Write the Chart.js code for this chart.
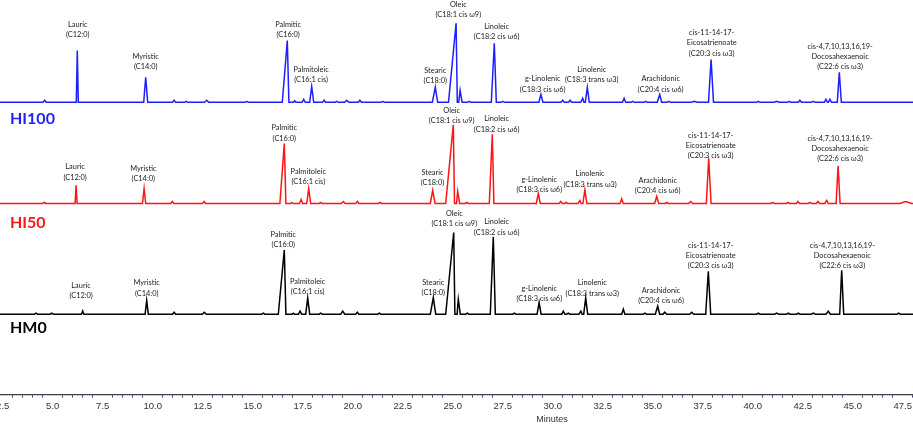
<!DOCTYPE html>
<html>
<head>
<meta charset="utf-8">
<script src="https://cdn.jsdelivr.net/npm/chart.js@4.4.1/dist/chart.umd.min.js"></script>
<style>
  html, body { margin: 0; padding: 0; background: #fff; }
  body { width: 913px; height: 427px; overflow: hidden; position: relative; }
  #wrap { position: absolute; left: -20px; top: 0; width: 1124px; height: 427px; }
</style>
</head>
<body>
<div id="wrap"><canvas id="grafico"></canvas></div>
<script>
// Cromatogramas GC de ácidos grasos (FAME), tres muestras apiladas
// picos: [tiempo (min), altura, ancho izq (min), ancho der (min)]

const traceNames = ['HI100', 'HI50', 'HM0'];

const peakNames = [
  ['Lauric', '(C12:0)'],
  ['Myristic', '(C14:0)'],
  ['Palmitic', '(C16:0)'],
  ['Palmitoleic', '(C16:1 cis)'],
  ['Stearic', '(C18:0)'],
  ['Oleic', '(C18:1 cis ω9)'],
  ['Linoleic', '(C18:2 cis ω6)'],
  ['g-Linolenic', '(C18:3 cis ω6)'],
  ['Linolenic', '(C18:3 trans ω3)'],
  ['Arachidonic', '(C20:4 cis ω6)'],
  ['cis-11-14-17-', 'Eicosatrienoate', '(C20:3 cis ω3)'],
  ['cis-4,7,10,13,16,19-', 'Docosahexaenoic', '(C22:6 cis ω3)']
];

const tickLabels = ['2.5', '5.0', '7.5', '10.0', '12.5', '15.0', '17.5', '20.0', '22.5', '25.0',
  '27.5', '30.0', '32.5', '35.0', '37.5', '40.0', '42.5', '45.0', '47.5', '50.0', '52.5', '55.0'];

const hi100Peaks = [
  [4.6, 2, .08, .08], [6.23, 51.7, .05, .05], [9.65, 25, .1, .1], [11.07, 2, .08, .08],
  [11.67, 1, .08, .08], [12.7, 2, .1, .1], [14.7, 1, .08, .08], [16.73, 61.7, .25, .08],
  [17.1, 1.5, .06, .06], [17.55, 3, .08, .08], [17.95, 15.7, .1, .1], [18.57, 2, .08, .08],
  [19.2, 1, .08, .08], [19.7, 2, .1, .1], [20.36, 2, .08, .08], [21.5, 1, .08, .08],
  [24.13, 15, .15, .12], [25.17, 79, .38, .06], [25.37, 12, .07, .1], [25.83, 1, .08, .08],
  [27.08, 59, .15, .1], [27.5, 1, .08, .08], [29.41, 7.7, .1, .1], [30.5, 2, .08, .08],
  [30.87, 2, .08, .08], [31.5, 4, .1, .06], [31.73, 15, .1, .1], [33.57, 4, .08, .08],
  [34.0, 1, .08, .08], [34.65, 1, .08, .08], [35.35, 7.7, .12, .1], [35.8, 1, .08, .08],
  [37.08, 1, .15, .15], [37.92, 42.7, .13, .12], [40.28, 1, .08, .08], [41.2, 1, .12, .12],
  [41.83, 1, .08, .08], [42.36, 2, .08, .08], [43.03, 1, .1, .1], [43.66, 3, .08, .08],
  [43.86, 3, .08, .08], [44.33, 30, .1, .1]
];

const hi50Peaks = [
  [4.58, 1, .08, .08], [6.17, 18.3, .05, .05], [9.57, 15, .08, .08], [10.98, 2, .08, .08],
  [12.57, 2, .08, .08], [16.58, 60, .22, .08], [16.95, 1, .06, .06], [17.42, 4, .08, .08],
  [17.8, 15, .1, .1], [18.4, 1, .08, .08], [19.53, 2, .1, .1], [20.23, 2, .08, .08],
  [21.36, 1, .08, .08], [24.0, 13, .12, .12], [25.03, 78.7, .38, .06], [25.25, 12, .06, .1],
  [25.7, 1, .08, .08], [26.98, 69.3, .15, .08], [29.28, 10, .1, .1], [30.4, 2, .08, .08],
  [30.67, 1, .08, .08], [31.36, 3, .1, .06], [31.61, 13.7, .1, .1], [33.45, 4.7, .08, .08],
  [35.2, 7, .1, .1], [35.7, 1, .08, .08], [36.9, 2, .1, .1], [37.8, 45.3, .12, .12],
  [41.0, 1, .1, .1], [41.76, 1, .08, .08], [42.26, 2, .08, .08], [42.86, 1, .1, .1],
  [43.26, 2, .08, .08], [43.7, 3, .1, .08], [44.27, 37.7, .1, .1], [47.65, 2, .3, .3]
];

const hm0Peaks = [
  [4.17, 1, .08, .08], [4.95, 1, .08, .08], [6.5, 3.3, .06, .06], [9.7, 13.7, .08, .08],
  [11.07, 2, .08, .08], [12.58, 2, .1, .1], [15.53, 1, .08, .08], [16.58, 64.3, .3, .08],
  [17.03, 1, .06, .06], [17.37, 3, .08, .08], [17.75, 16.3, .1, .1], [18.4, 1, .08, .08],
  [19.5, 3, .1, .1], [20.23, 2, .08, .08], [21.33, 1, .08, .08], [24.03, 16.5, .15, .12],
  [25.05, 81.7, .4, .06], [25.28, 15, .06, .1], [25.73, 1, .08, .08], [27.03, 77.3, .15, .1],
  [28.08, 1, .08, .08], [29.32, 11.7, .1, .1], [30.53, 3, .08, .08], [30.78, 1, .08, .08],
  [31.41, 3, .1, .06], [31.65, 16.3, .1, .1], [33.53, 5, .08, .08], [34.61, 1, .08, .08],
  [35.25, 8, .12, .1], [35.6, 2, .08, .1], [36.95, 2, .1, .1], [37.78, 43, .13, .12],
  [40.28, 1, .08, .08], [41.2, 1, .1, .1], [41.78, 1, .08, .08], [42.28, 1, .08, .08],
  [43.03, 1, .1, .1], [43.78, 3, .12, .1], [44.45, 44, .1, .1], [47.3, 1, .08, .08]
];

// --- posición de etiquetas (tiempo del centro, altura de la última línea sobre la línea base)
const hi100LabelTime = [6.25, 9.65, 16.77, 17.92, 24.13, 25.28, 27.2, 29.5, 31.95, 35.4, 37.95, 44.37];
const hi100LabelLift = [67.3, 35.6, 67.3, 22.3, 21.6, 87.3, 65.6, 13, 22.3, 13, 49, 35.6];
const hi50LabelTime = [6.12, 9.53, 16.58, 17.78, 23.99, 24.95, 27.2, 29.33, 31.87, 35.25, 37.9, 44.37];
const hi50LabelLift = [26.2, 24.5, 65.2, 21.8, 20.5, 82.5, 74.2, 13.5, 19.2, 12.5, 47.8, 44.5];
const hm0LabelTime = [6.42, 9.7, 16.53, 17.75, 24.03, 25.08, 27.2, 29.33, 31.98, 35.42, 37.9, 44.48];
const hm0LabelLift = [18.2, 20.9, 69.2, 22.5, 21.5, 90.2, 81.9, 15.2, 20.9, 13.2, 48.2, 48.2];

// estilo / apilado
const traces = [
  { peaks: hi100Peaks, base: 292.2, color: '#1e1eff', labelTime: hi100LabelTime, labelLift: hi100LabelLift, nameDrop: 17 },
  { peaks: hi50Peaks, base: 191, color: '#ff1414', labelTime: hi50LabelTime, labelLift: hi50LabelLift, nameDrop: 19.8 },
  { peaks: hm0Peaks, base: 80.3, color: '#000000', labelTime: hm0LabelTime, labelLift: hm0LabelLift, nameDrop: 13.5 }
];

const X_MIN = 2.365, X_MAX = 57.565;

function buildPoints(peaks, base) {
  const pts = [{ x: X_MIN, y: base }];
  peaks.forEach(([t, h, lw, rw]) => {
    pts.push({ x: t - lw, y: base });
    pts.push({ x: t, y: base + h });
    pts.push({ x: t + rw, y: base });
  });
  pts.push({ x: 48.3, y: base });
  return pts;
}

// marcas menores cada 0.5 min, etiquetas cada 2.5
const allTicks = [];
for (let v = 2.5; v <= 57.5 + 1e-9; v += 0.5) allTicks.push(Math.round(v * 10) / 10);
const isMajor = v => Math.abs(v / 2.5 - Math.round(v / 2.5)) < 1e-6;

const peakLabels = {
  id: 'peakLabels',
  afterDatasetsDraw(chart) {
    const { ctx, scales: { x, y }, chartArea } = chart;
    ctx.save();
    ctx.textBaseline = 'middle';
    traces.forEach((tr, i) => {
      ctx.font = '7.4px Lato, "Noto Sans", sans-serif';
      ctx.fillStyle = '#222';
      ctx.textAlign = 'center';
      tr.labelTime.forEach((t, k) => {
        const lines = peakNames[k];
        const px = x.getPixelForValue(t);
        const py = y.getPixelForValue(tr.base + tr.labelLift[k]);
        lines.forEach((s, j) => ctx.fillText(s, px, py - (lines.length - 1 - j) * 10.2));
      });
      ctx.font = 'bold 16px Lato, "Open Sans", sans-serif';
      ctx.fillStyle = tr.color;
      ctx.textAlign = 'left';
      ctx.fillText(traceNames[i], chartArea.left + 10, y.getPixelForValue(tr.base) + tr.nameDrop);
    });
    ctx.restore();
  }
};

const chart = new Chart(document.getElementById('grafico'), {
  type: 'line',
  data: {
    datasets: traces.map((tr, i) => ({
      label: traceNames[i],
      data: buildPoints(tr.peaks, tr.base),
      borderColor: tr.color,
      borderWidth: 1.5,
      pointRadius: 0,
      tension: 0,
      fill: false
    }))
  },
  options: {
    responsive: true,
    maintainAspectRatio: false,
    animation: false,
    layout: { padding: { left: 20, right: 0, top: 0, bottom: 0 } },
    plugins: { legend: { display: false }, tooltip: { enabled: false } },
    scales: {
      x: {
        type: 'linear',
        min: X_MIN,
        max: X_MAX,
        afterBuildTicks: scale => { scale.ticks = allTicks.map(v => ({ value: v })); },
        afterFit: scale => { scale.height = 32.5; },
        ticks: {
          autoSkip: false,
          maxRotation: 0,
          minRotation: 0,
          padding: 3,
          color: '#333',
          font: { family: '"Liberation Sans", Arial, sans-serif', size: 9.5 },
          callback: v => isMajor(v) ? tickLabels[Math.round(v / 2.5) - 1] : ''
        },
        grid: {
          drawOnChartArea: false,
          drawTicks: true,
          tickLength: 3,
          lineWidth: 1,
          color: c => (c.tick && isMajor(c.tick.value)) ? 'rgba(0,0,0,0)' : '#33337a'
        },
        border: { display: true, color: '#3c3c4c', width: 1.3 },
        title: {
          display: true,
          text: 'Minutes',
          color: '#333',
          font: { family: '"Liberation Sans", Arial, sans-serif', size: 9 },
          padding: { top: 1, bottom: 2 }
        }
      },
      y: { display: false, min: 0, max: 394.5 }
    }
  },
  plugins: [peakLabels]
});
</script>
</body>
</html>
